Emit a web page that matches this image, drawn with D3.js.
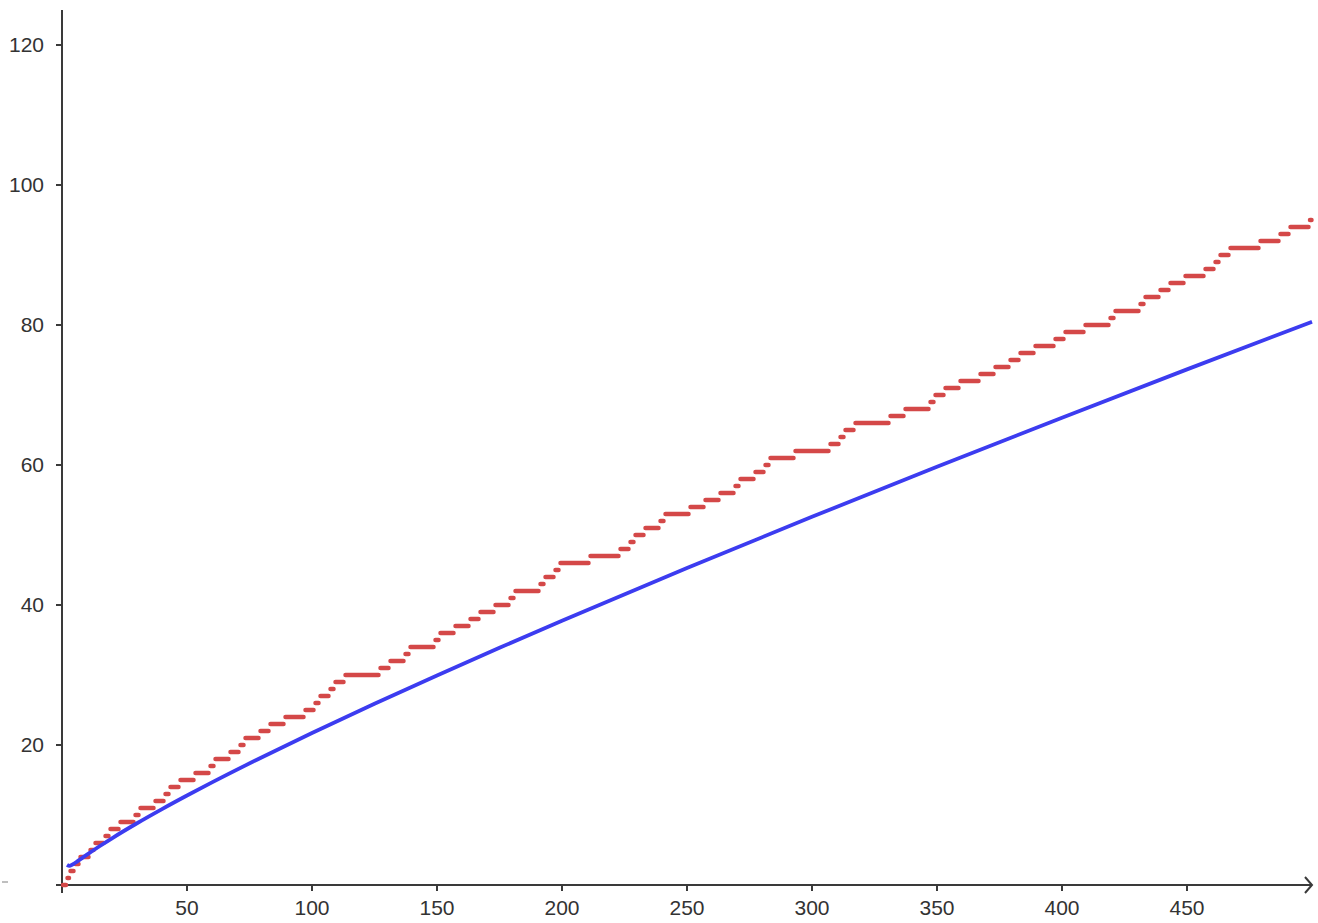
<!DOCTYPE html>
<html><head><meta charset="utf-8">
<script src="https://cdn.jsdelivr.net/npm/d3@7"></script>
<style>body{margin:0;background:#fff}svg{display:block}</style>
</head><body>
<svg id="c" width="1318" height="923"></svg>
<script>
// Data
const primes = [2,3,5,7,11,13,17,19,23,29,31,37,41,43,47,53,59,61,67,71,73,79,83,89,97,
101,103,107,109,113,127,131,137,139,149,151,157,163,167,173,179,181,191,193,197,199,
211,223,227,229,233,239,241,251,257,263,269,271,277,281,283,293,
307,311,313,317,331,337,347,349,353,359,367,373,379,383,389,397,
401,409,419,421,431,433,439,443,449,457,461,463,467,479,487,491,499];
const curveX = [2,3,4,5,6,8,10,15,20,30,40,50,60,80,100,125,150,175,200,250,300,350,400,450,500];
const curveY = [2.885,2.731,2.885,3.107,3.349,3.847,4.343,5.539,6.676,8.820,10.843,12.781,14.654,18.256,21.715,25.889,29.936,33.883,37.748,45.277,52.597,59.748,66.762,73.659,80.455];
const xTicks = [50,100,150,200,250,300,350,400,450];
const yTicks = [20,40,60,80,100,120];

const svg = d3.select("#c");
const x = d3.scaleLinear().domain([0,500]).range([62,1312]);
const y = d3.scaleLinear().domain([0,120]).range([885,45]);

const axisColor = "#3a3a3a";
// x axis
svg.append("line").attr("x1",56).attr("x2",x(500)).attr("y1",y(0)).attr("y2",y(0))
  .attr("stroke",axisColor).attr("stroke-width",2);
svg.append("path").attr("d",`M${x(500)-7},${y(0)-8} L${x(500)},${y(0)} L${x(500)-7},${y(0)+8}`)
  .attr("fill","none").attr("stroke",axisColor).attr("stroke-width",2);
// y axis
svg.append("line").attr("x1",x(0)).attr("x2",x(0)).attr("y1",10).attr("y2",893)
  .attr("stroke",axisColor).attr("stroke-width",2);

const font = "'Liberation Sans', Arial, sans-serif";
svg.selectAll(".xt").data(xTicks).enter().append("line")
  .attr("x1",d=>x(d)).attr("x2",d=>x(d)).attr("y1",y(0)).attr("y2",y(0)+6)
  .attr("stroke",axisColor).attr("stroke-width",2);
svg.selectAll(".xl").data(xTicks).enter().append("text")
  .attr("x",d=>x(d)).attr("y",915).attr("text-anchor","middle")
  .attr("font-family",font).attr("font-size",21).attr("fill","#333").text(d=>d);
svg.selectAll(".yt").data(yTicks).enter().append("line")
  .attr("x1",x(0)-6).attr("x2",x(0)).attr("y1",d=>y(d)).attr("y2",d=>y(d))
  .attr("stroke",axisColor).attr("stroke-width",2);
svg.selectAll(".yl").data(yTicks).enter().append("text")
  .attr("x",44).attr("y",d=>y(d)+7).attr("text-anchor","end")
  .attr("font-family",font).attr("font-size",21).attr("fill","#333").text(d=>d);
// faint mark at left
svg.append("line").attr("x1",2).attr("x2",8).attr("y1",882).attr("y2",882)
  .attr("stroke","#aaa").attr("stroke-width",1.5);

// red step segments
const starts = [0, ...primes];
const segs = starts.map((s,i)=>({x0:s, x1: i<primes.length ? primes[i] : 500, lvl:i}));
svg.selectAll(".seg").data(segs).enter().append("line")
  .attr("x1",d=>x(d.x0)+ (d.x1-d.x0>1.5?1:0.5))
  .attr("x2",d=>x(d.x1)- (d.x1-d.x0>1.5?1:0.5))
  .attr("y1",d=>y(d.lvl)).attr("y2",d=>y(d.lvl))
  .attr("stroke","#d44848").attr("stroke-width",4.5).attr("stroke-linecap","round");

// blue curve
const pts = curveX.map((v,i)=>[v,curveY[i]]);
svg.append("path").datum(pts)
  .attr("d",d3.line().x(d=>x(d[0])).y(d=>y(d[1])).curve(d3.curveMonotoneX))
  .attr("fill","none").attr("stroke","#3c3cf0").attr("stroke-width",3.8);
</script>
</body></html>
